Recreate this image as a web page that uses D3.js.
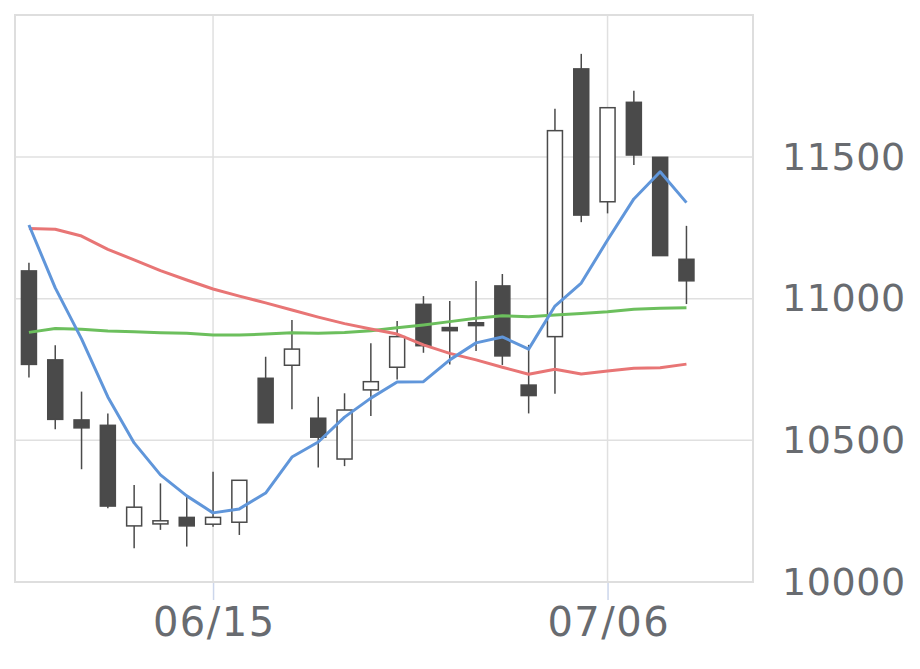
<!DOCTYPE html>
<html>
<head>
  <meta charset="utf-8">
  <script src="https://cdn.jsdelivr.net/npm/d3@7"></script>
  <style>
    body { margin: 0; background: #fff; }
    .grid line { stroke: #e0e0e0; stroke-width: 1.5; }
    .axis text { fill: #686b70; font-family: "DejaVu Sans", sans-serif; font-size: 38px; }
    .xaxis text { font-size: 40px; letter-spacing: 1.5px; }
    .yaxis text { letter-spacing: 0.6px; }
    .axis path { display: none; }
    .xaxis .tick line { stroke: #ccd6eb; stroke-width: 1.5; }
    .yaxis .tick line { display: none; }
  </style>
</head>
<body>
  <svg id="chart"></svg>
  <script>
    var dates = ['06/04', '06/07', '06/08', '06/09', '06/10', '06/11', '06/14', '06/15', '06/16', '06/17',
      '06/18', '06/21', '06/22', '06/23', '06/24', '06/25', '06/28', '06/29', '06/30', '07/01',
      '07/02', '07/05', '07/06', '07/07', '07/08', '07/09'];
    var open = [11098, 10784, 10572, 10553, 10198, 10205, 10228, 10204, 10211, 10719,
      10765, 10578, 10434, 10678, 10758, 10980, 10898, 10915, 11045, 10695,
      10866, 11811, 11342, 11693, 11499, 11139];
    var high = [11127, 10836, 10672, 10595, 10342, 10348, 10301, 10389, 10359, 10795,
      10925, 10654, 10666, 10843, 10921, 11009, 10992, 11062, 11087, 10837,
      11670, 11864, 11674, 11734, 11499, 11257];
    var low = [10722, 10539, 10398, 10260, 10119, 10184, 10125, 10195, 10166, 10562,
      10610, 10404, 10409, 10586, 10715, 10809, 10768, 10815, 10766, 10595,
      10664, 11270, 11301, 11472, 11152, 10981];
    var close = [10768, 10574, 10544, 10268, 10264, 10216, 10198, 10228, 10359, 10562,
      10822, 10511, 10607, 10707, 10866, 10834, 10887, 10905, 10798, 10658,
      11593, 11295, 11674, 11507, 11152, 11063];
    var ma5 = [11260, 11038, 10858, 10653, 10491, 10378, 10304, 10244, 10258, 10314,
      10441, 10494, 10582, 10649, 10706, 10707, 10784, 10844, 10865, 10822,
      10974, 11055, 11207, 11352, 11448, 11339];
    var ma25 = [11248, 11245, 11221, 11174, 11137, 11099, 11066, 11034, 11009, 10985,
      10960, 10935, 10912, 10893, 10875, 10837, 10807, 10784, 10758, 10733,
      10751, 10734, 10745, 10754, 10756, 10769];
    var ma75 = [10881, 10895, 10892, 10886, 10883, 10880, 10878, 10872, 10872, 10875,
      10880, 10878, 10881, 10887, 10897, 10907, 10919, 10931, 10940, 10936,
      10942, 10948, 10954, 10963, 10966, 10968];
    var xTicks = ['06/15', '07/06'];
    var yTicks = [10000, 10500, 11000, 11500];

    var W = 920, H = 669;
    var plot = { left: 15, right: 753, top: 15, bottom: 582 };

    var x = d3.scaleLinear().domain([-0.53, 27.53]).range([plot.left, plot.right]);
    var y = d3.scaleLinear().domain([10000, 12000]).range([plot.bottom, plot.bottom - 2000 * 425 / 1500]);

    var svg = d3.select('#chart').attr('width', W).attr('height', H);

    // grid
    var grid = svg.append('g').attr('class', 'grid');
    grid.selectAll('line.h')
      .data(yTicks.slice(1))
      .enter().append('line')
      .attr('x1', plot.left).attr('x2', plot.right)
      .attr('y1', d => y(d)).attr('y2', d => y(d));
    grid.selectAll('line.v')
      .data(xTicks)
      .enter().append('line')
      .attr('x1', d => x(dates.indexOf(d))).attr('x2', d => x(dates.indexOf(d)))
      .attr('y1', plot.top).attr('y2', plot.bottom);

    svg.append('rect')
      .attr('x', plot.left).attr('y', plot.top)
      .attr('width', plot.right - plot.left).attr('height', plot.bottom - plot.top)
      .attr('fill', 'none').attr('stroke', '#dedede').attr('stroke-width', 2);

    // axes
    var xAxis = d3.axisBottom(x)
      .tickValues(xTicks.map(d => dates.indexOf(d)))
      .tickFormat(i => dates[i])
      .tickSize(17).tickPadding(8);
    svg.append('g')
      .attr('class', 'axis xaxis')
      .attr('transform', 'translate(0,' + (plot.bottom + 1) + ')')
      .call(xAxis)
      .selectAll('text').attr('dx', '0.75px');

    var yAxis = d3.axisRight(y)
      .tickValues(yTicks)
      .tickFormat(d3.format('d'))
      .tickSize(0).tickPadding(29);
    svg.append('g')
      .attr('class', 'axis yaxis')
      .attr('transform', 'translate(' + plot.right + ',0)')
      .call(yAxis);

    // candles
    var bw = 15;
    var candles = svg.append('g')
      .selectAll('g')
      .data(dates.map((d, i) => i))
      .enter().append('g');
    candles.append('line')
      .attr('x1', i => x(i)).attr('x2', i => x(i))
      .attr('y1', i => y(high[i])).attr('y2', i => y(low[i]))
      .attr('stroke', '#4a4a4a').attr('stroke-width', 1.5);
    candles.append('rect')
      .attr('x', i => x(i) - bw / 2)
      .attr('width', bw)
      .attr('y', i => y(Math.max(open[i], close[i])))
      .attr('height', i => Math.max(1, Math.abs(y(open[i]) - y(close[i]))))
      .attr('fill', i => close[i] >= open[i] ? '#ffffff' : '#4a4a4a')
      .attr('stroke', '#4a4a4a').attr('stroke-width', 1.5);

    // moving averages
    var line = d3.line().x((d, i) => x(i)).y(d => y(d));
    [[ma75, '#6cbf5d'], [ma25, '#e87575'], [ma5, '#6096da']].forEach(function (s) {
      svg.append('path')
        .datum(s[0])
        .attr('d', line)
        .attr('fill', 'none')
        .attr('stroke', s[1])
        .attr('stroke-width', 3)
        .attr('stroke-linejoin', 'round');
    });
  </script>
</body>
</html>
